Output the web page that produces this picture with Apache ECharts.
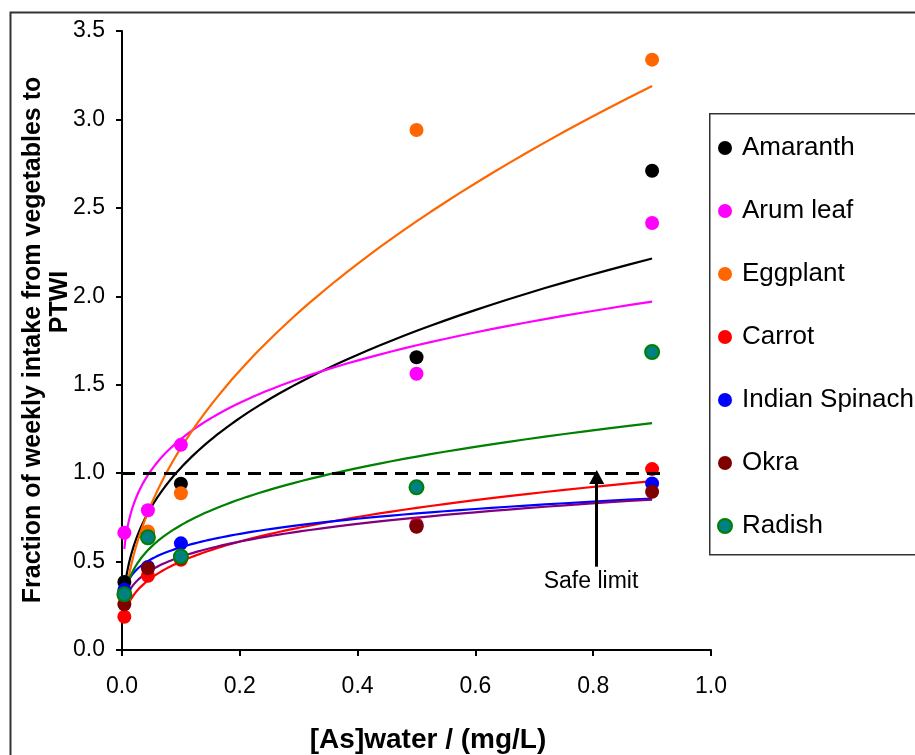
<!DOCTYPE html>
<html>
<head>
<meta charset="utf-8">
<script src="https://cdn.jsdelivr.net/npm/echarts@6/dist/echarts.min.js"></script>
<style>
  html, body { margin: 0; padding: 0; background: #fff; }
  #chart { width: 915px; height: 755px; }
</style>
</head>
<body>
<div id="chart"></div>
<script>
// Arsenic concentration in irrigation water (mg/L)
const asWater = [0.004, 0.044, 0.1, 0.5, 0.9];

// Fraction of weekly intake relative to PTWI, per vegetable
const amaranth      = [0.385, 0.66, 0.94, 1.655, 2.71];
const arumLeaf      = [0.663, 0.79, 1.16, 1.562, 2.414];
const eggplant      = [0.30, 0.67, 0.886, 2.94, 3.338];
const carrot        = [0.188, 0.42, 0.51, 0.71, 1.023];
const indianSpinach = [0.34, 0.47, 0.603, 0.70, 0.942];
const okra          = [0.258, 0.462, 0.52, 0.697, 0.895];
const radish        = [0.315, 0.637, 0.528, 0.92, 1.685];

const vegNames = ['Amaranth', 'Arum leaf', 'Eggplant', 'Carrot', 'Indian Spinach', 'Okra', 'Radish'];
const vegValues = [amaranth, arumLeaf, eggplant, carrot, indianSpinach, okra, radish];

// Axis ticks
const xTicks = [0.0, 0.2, 0.4, 0.6, 0.8, 1.0];
const yTicks = [0.0, 0.5, 1.0, 1.5, 2.0, 2.5, 3.0, 3.5];

// Reference level
const safeLimit = 1.0;

const markerColors = ['#000000', '#FF00FF', '#FF6600', '#FF0000', '#0000FF', '#800000', '#008080'];
const markerBorders = ['#000000', '#FF00FF', '#FF6600', '#FF0000', '#0000FF', '#800000', '#008000'];
const trendColors = ['#000000', '#FF00FF', '#FF6600', '#FF0000', '#0000FF', '#800080', '#008000'];

const FONT = "'Liberation Sans', Arial, sans-serif";

// Power-law trendline y = a * x^b, least squares in log-log space
function powerFit(xs, ys) {
  const lx = xs.map(Math.log), ly = ys.map(Math.log);
  const n = xs.length;
  const mx = lx.reduce((s, v) => s + v, 0) / n;
  const my = ly.reduce((s, v) => s + v, 0) / n;
  let sxy = 0, sxx = 0;
  for (let i = 0; i < n; i++) {
    sxy += (lx[i] - mx) * (ly[i] - my);
    sxx += (lx[i] - mx) * (lx[i] - mx);
  }
  const b = sxy / sxx;
  const a = Math.exp(my - b * mx);
  return { a, b };
}

function trendPoints(xs, ys) {
  const { a, b } = powerFit(xs, ys);
  const x0 = Math.min(...xs), x1 = Math.max(...xs);
  const pts = [];
  const steps = 120;
  for (let i = 0; i <= steps; i++) {
    const x = x0 * Math.pow(x1 / x0, i / steps);
    pts.push([x, a * Math.pow(x, b)]);
  }
  return pts;
}

const series = [];

vegNames.forEach((name, i) => {
  series.push({
    name: name + ' trend',
    type: 'line',
    data: trendPoints(asWater, vegValues[i]),
    showSymbol: false,
    symbol: 'none',
    smooth: false,
    lineStyle: { color: trendColors[i], width: 2.2 },
    z: 2,
    silent: true
  });
});

vegNames.forEach((name, i) => {
  series.push({
    name: name,
    type: 'scatter',
    data: asWater.map((x, j) => [x, vegValues[i][j]]),
    symbol: 'circle',
    symbolSize: 14,
    itemStyle: {
      color: markerColors[i],
      borderColor: markerBorders[i],
      borderWidth: name === 'Radish' ? 2 : 0,
      opacity: 1
    },
    z: 3
  });
});

// Safe-limit line and arrow annotation
series.push({
  name: 'annotation',
  type: 'line',
  data: [],
  z: 4,
  silent: true,
  markLine: {
    silent: true,
    animation: false,
    label: { show: false },
    data: [
      [
        { coord: [0, safeLimit], symbol: 'none', lineStyle: { color: '#000', width: 3, type: [13, 8] } },
        { coord: [0.927, safeLimit], symbol: 'none' }
      ],
      [
        { coord: [0.806, 0.471], symbol: 'none', lineStyle: { color: '#000', width: 3, type: 'solid' } },
        { coord: [0.806, 0.978], symbol: 'triangle', symbolSize: [15, 14] }
      ]
    ]
  }
});

const chart = echarts.init(document.getElementById('chart'), null, { renderer: 'canvas' });

chart.setOption({
  animation: false,
  backgroundColor: '#ffffff',
  textStyle: { fontFamily: FONT },
  grid: { left: 122, right: 204, top: 31, bottom: 105, containLabel: false },
  xAxis: {
    type: 'value',
    min: xTicks[0],
    max: xTicks[xTicks.length - 1],
    interval: 0.2,
    axisLine: { show: true, onZero: false, lineStyle: { color: '#000', width: 2 } },
    axisTick: { show: true, inside: false, length: 6, lineStyle: { color: '#000', width: 2 } },
    axisLabel: {
      color: '#000', fontSize: 23, fontFamily: FONT, margin: 25,
      formatter: v => v.toFixed(1)
    },
    splitLine: { show: false }
  },
  yAxis: {
    type: 'value',
    min: yTicks[0],
    max: yTicks[yTicks.length - 1],
    interval: 0.5,
    axisLine: { show: true, onZero: false, lineStyle: { color: '#000', width: 2 } },
    axisTick: { show: true, inside: false, length: 6, lineStyle: { color: '#000', width: 2 } },
    axisLabel: {
      color: '#000', fontSize: 23, fontFamily: FONT, margin: 17,
      formatter: v => v.toFixed(1)
    },
    splitLine: { show: false }
  },
  legend: {
    data: vegNames,
    orient: 'vertical',
    left: 717,
    top: 133,
    padding: 0,
    itemGap: 33,
    itemWidth: 24,
    itemHeight: 14,
    icon: 'circle',
    selectedMode: false,
    textStyle: { color: '#000', fontSize: 26, fontFamily: FONT, lineHeight: 30 }
  },
  graphic: [
    {
      type: 'rect',
      left: 8, top: 10,
      shape: { width: 1000, height: 1000 },
      style: { fill: 'none', stroke: '#333', lineWidth: 2 },
      silent: true, z: 0
    },
    {
      type: 'rect',
      left: 709, top: 113,
      shape: { width: 210, height: 441 },
      style: { fill: '#fff', stroke: '#333', lineWidth: 1.5 },
      silent: true, z: 1
    },
    {
      type: 'text',
      x: 33, y: 340, rotation: Math.PI / 2,
      style: {
        text: 'Fraction of weekly intake from vegetables to',
        fontSize: 25, fontWeight: 'bold', fontFamily: FONT, fill: '#000',
        textAlign: 'center', textVerticalAlign: 'middle'
      },
      silent: true
    },
    {
      type: 'text',
      x: 60, y: 302, rotation: Math.PI / 2,
      style: {
        text: 'PTWI',
        fontSize: 25, fontWeight: 'bold', fontFamily: FONT, fill: '#000',
        textAlign: 'center', textVerticalAlign: 'middle'
      },
      silent: true
    },
    {
      type: 'text',
      x: 428, y: 740,
      style: {
        text: '[As]water / (mg/L)',
        fontSize: 28, fontWeight: 'bold', fontFamily: FONT, fill: '#000',
        textAlign: 'center', textVerticalAlign: 'middle'
      },
      silent: true
    },
    {
      type: 'text',
      x: 591, y: 582,
      style: {
        text: 'Safe limit',
        fontSize: 23, fontFamily: FONT, fill: '#000',
        textAlign: 'center', textVerticalAlign: 'middle'
      },
      silent: true
    }
  ],
  series: series
});
</script>
</body>
</html>
